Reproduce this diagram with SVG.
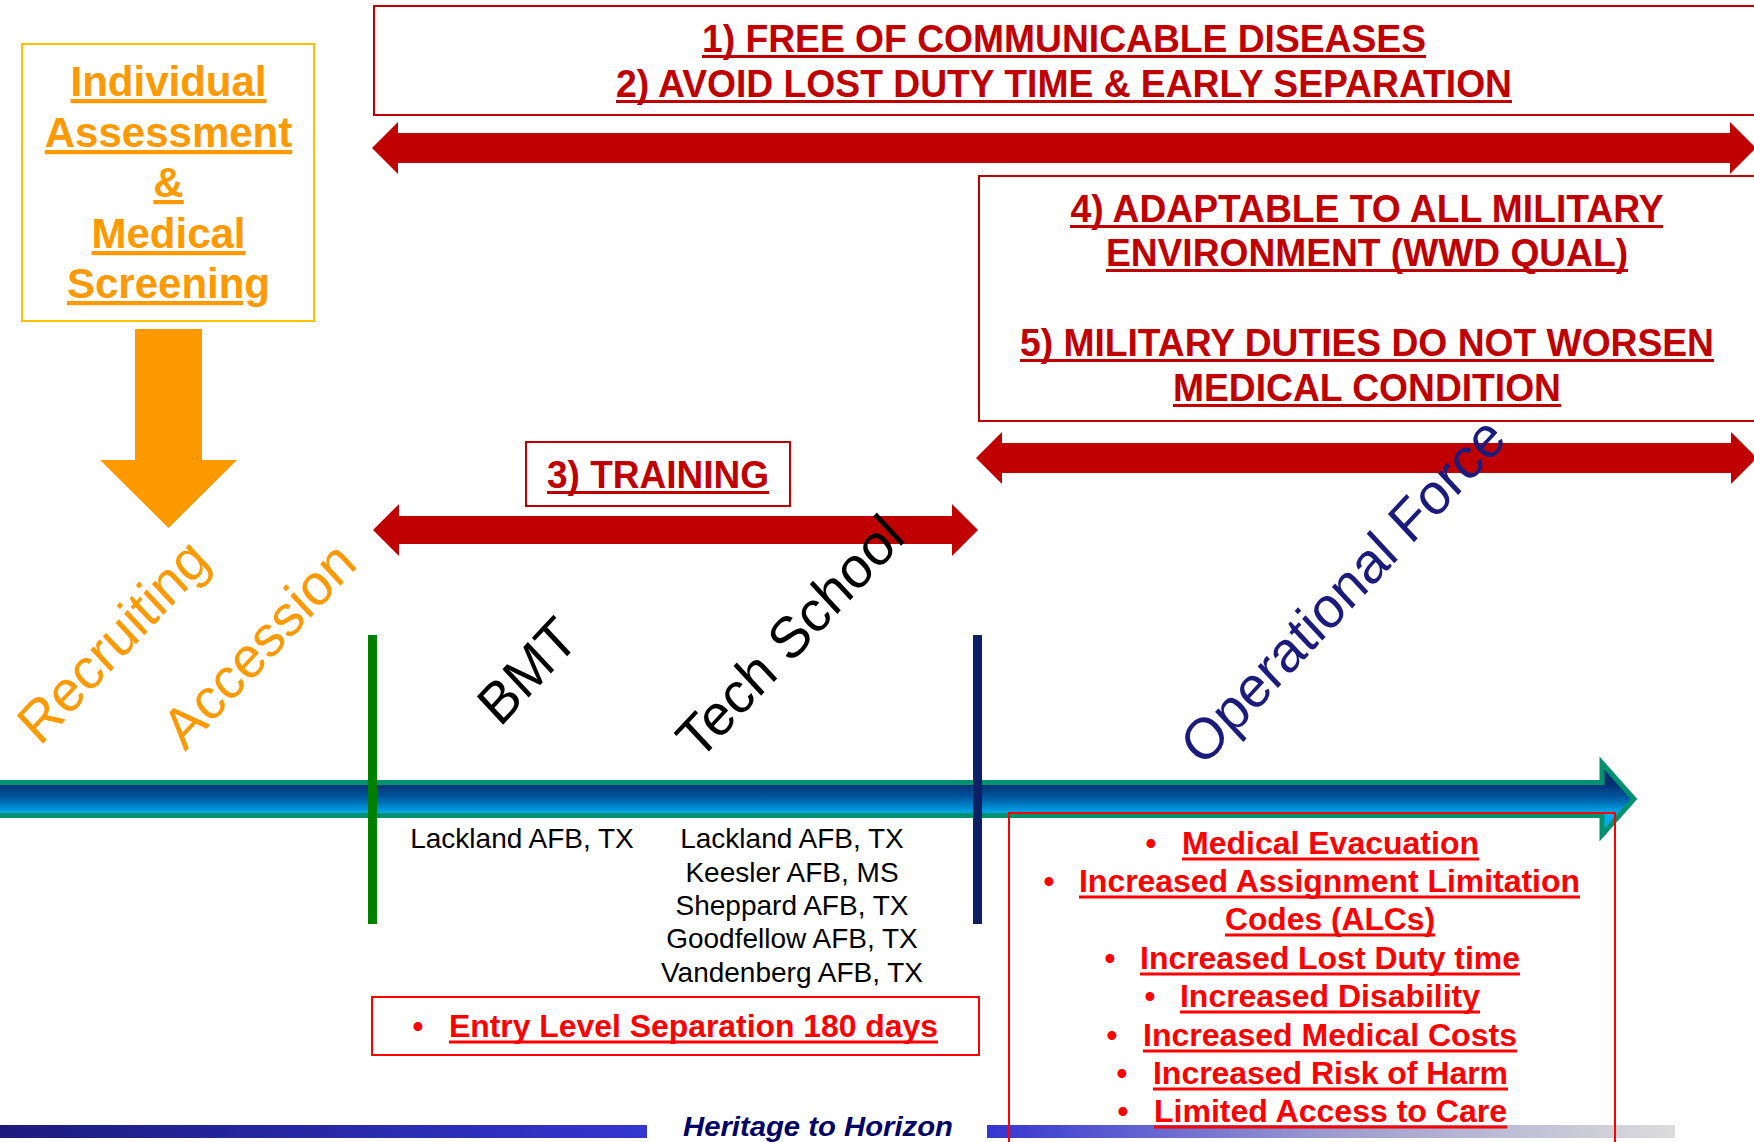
<svg xmlns="http://www.w3.org/2000/svg" width="1754" height="1142" viewBox="0 0 1754 1142">
  <style>
    .bg { fill: #ffffff; }
    .hdr { font-family: "Liberation Sans Narrow", "Liberation Sans", Arial, sans-serif; font-weight: 700; fill: #C00000; }
    .risk { font-family: "Liberation Sans Narrow", "Liberation Sans", Arial, sans-serif; font-weight: 700; fill: #FF0000; font-size: 31px; }
    .bul { font-family: "Liberation Sans", Arial, sans-serif; font-weight: 700; fill: #FF0000; font-size: 31px; text-anchor: middle; }
    .ul-dark { stroke: #C00000; stroke-width: 3; }
    .ul-red { stroke: #FF0000; stroke-width: 3; }
    .goalbox { fill: none; stroke: #C00000; stroke-width: 2; }
    .redbox { fill: none; stroke: #FF0000; stroke-width: 2; }
    .redarrow { fill: #C00000; }
    .base { font-family: "Liberation Sans", Arial, sans-serif; font-size: 28px; fill: #000000; text-anchor: middle; }
    .phase { font-family: "Liberation Sans", Arial, sans-serif; font-size: 54px; }
    .screen { font-family: "Liberation Sans", Arial, sans-serif; font-weight: 700; font-size: 42px; fill: #FF9900; text-anchor: middle; text-decoration: underline; }
  </style>
  <defs>
    <linearGradient id="timelineFill" gradientUnits="userSpaceOnUse" x1="0" y1="784" x2="0" y2="814">
      <stop offset="0" stop-color="#00306F"/>
      <stop offset="0.45" stop-color="#0058A0"/>
      <stop offset="1" stop-color="#00AEEF"/>
    </linearGradient>
    <linearGradient id="footLeft" x1="0" y1="0" x2="1" y2="0">
      <stop offset="0" stop-color="#1C1C7E"/>
      <stop offset="1" stop-color="#3535D0"/>
    </linearGradient>
    <linearGradient id="footRight" x1="0" y1="0" x2="1" y2="0">
      <stop offset="0" stop-color="#3535D0"/>
      <stop offset="0.5" stop-color="#9C9CD0"/>
      <stop offset="1" stop-color="#DCDCDC"/>
    </linearGradient>
  </defs>

  <rect class="bg" x="0" y="0" width="1754" height="1142"/>

  <!-- footer bars and tagline -->
  <g id="footer">
    <rect x="0" y="1125" width="647" height="13" fill="url(#footLeft)"/>
    <rect x="987" y="1125" width="688" height="13" fill="url(#footRight)"/>
    <text x="818" y="1136" text-anchor="middle" textLength="270" lengthAdjust="spacingAndGlyphs"
          font-family="Liberation Sans Narrow, Liberation Sans, Arial, sans-serif" font-weight="700" font-style="italic"
          font-size="28" fill="#000066">Heritage to Horizon</text>
  </g>

  <!-- connectors: block arrows and phase markers -->
  <g id="connectors">
    <!-- screening feeds recruiting -->
    <polygon points="135,329 202,329 202,460 237,460 168.5,528 100,460 135,460" fill="#FF9900"/>
    <!-- goals 1-2 span -->
    <polygon class="redarrow" points="372,148 398,122 398,133 1730,133 1730,122 1756,148 1730,174 1730,163 398,163 398,174"/>
    <!-- goals 4-5 span -->
    <polygon class="redarrow" points="976,458 1002,432 1002,443 1731,443 1731,432 1757,458 1731,484 1731,473 1002,473 1002,484"/>
    <!-- training span -->
    <polygon class="redarrow" points="373,530 399,504 399,516 952,516 952,504 978,530 952,556 952,544 399,544 399,556"/>
    <!-- career timeline -->
    <polygon points="-10,782.5 1602,782.5 1602,763 1634,799 1602,835 1602,815.5 -10,815.5"
             fill="url(#timelineFill)" stroke="#009270" stroke-width="5" stroke-linejoin="miter"/>
    <!-- phase boundaries -->
    <rect x="368" y="635" width="9" height="289" fill="#008000"/>
    <rect x="973" y="635" width="9" height="289" fill="#0B2163"/>
  </g>

  <g id="screening">
    <rect x="22" y="44" width="292" height="277" fill="none" stroke="#FFC000" stroke-width="2"/>
    <text class="screen" x="168.5" y="96">Individual</text>
    <text class="screen" x="168.5" y="147">Assessment</text>
    <text class="screen" x="168.5" y="197">&amp;</text>
    <text class="screen" x="168.5" y="248">Medical</text>
    <text class="screen" x="168.5" y="298">Screening</text>
  </g>

  <g id="goals-1-2">
    <rect class="goalbox" x="374" y="6" width="1400" height="109"/>
    <text class="hdr" x="1064" y="52" font-size="38" text-anchor="middle" textLength="724" lengthAdjust="spacingAndGlyphs">1) FREE OF COMMUNICABLE DISEASES</text>
    <line class="ul-dark" x1="702" y1="56.5" x2="1426" y2="56.5"/>
    <text class="hdr" x="1064" y="97" font-size="38" text-anchor="middle" textLength="896" lengthAdjust="spacingAndGlyphs">2) AVOID LOST DUTY TIME &amp; EARLY SEPARATION</text>
    <line class="ul-dark" x1="616" y1="101.5" x2="1512" y2="101.5"/>
  </g>

  <g id="goals-4-5">
    <rect class="goalbox" x="979" y="176" width="800" height="245"/>
    <text class="hdr" x="1367" y="222" font-size="38" text-anchor="middle" textLength="593" lengthAdjust="spacingAndGlyphs">4) ADAPTABLE TO ALL MILITARY</text>
    <line class="ul-dark" x1="1070" y1="226.5" x2="1663" y2="226.5"/>
    <text class="hdr" x="1367" y="266" font-size="38" text-anchor="middle" textLength="522" lengthAdjust="spacingAndGlyphs">ENVIRONMENT (WWD QUAL)</text>
    <line class="ul-dark" x1="1106" y1="270.5" x2="1628" y2="270.5"/>
    <text class="hdr" x="1367" y="356" font-size="38" text-anchor="middle" textLength="694" lengthAdjust="spacingAndGlyphs">5) MILITARY DUTIES DO NOT WORSEN</text>
    <line class="ul-dark" x1="1020" y1="360.5" x2="1714" y2="360.5"/>
    <text class="hdr" x="1367" y="401" font-size="38" text-anchor="middle" textLength="388" lengthAdjust="spacingAndGlyphs">MEDICAL CONDITION</text>
    <line class="ul-dark" x1="1173" y1="405.5" x2="1561" y2="405.5"/>
  </g>

  <g id="training">
    <rect class="goalbox" x="526" y="442" width="264" height="64"/>
    <text class="hdr" x="658" y="488" font-size="38" text-anchor="middle" textLength="222" lengthAdjust="spacingAndGlyphs">3) TRAINING</text>
    <line class="ul-dark" x1="547" y1="492.5" x2="769" y2="492.5"/>
  </g>

  <!-- diagonal phase labels (slightly stretched vertically, as on the slide) -->
  <g id="phase-labels">
    <text class="phase" fill="#FF9900" transform="translate(40,747) scale(1,1.07) rotate(-45)" font-size="53">Recruiting</text>
    <text class="phase" fill="#FF9900" transform="translate(185,752) scale(1,1.07) rotate(-45)" font-size="53">Accession</text>
    <text class="phase" fill="#000000" transform="translate(500,728) scale(1,1.07) rotate(-45)">BMT</text>
    <text class="phase" fill="#000000" transform="translate(699,762) scale(1,1.07) rotate(-45)">Tech School</text>
    <text class="phase" fill="#1B1B7D" transform="translate(1203,768) scale(1,1.07) rotate(-45)">Operational Force</text>
  </g>

  <g id="bases">
    <text class="base" x="522" y="848">Lackland AFB, TX</text>
    <text class="base" x="792" y="848">Lackland AFB, TX</text>
    <text class="base" x="792" y="882">Keesler AFB, MS</text>
    <text class="base" x="792" y="915">Sheppard AFB, TX</text>
    <text class="base" x="792" y="948">Goodfellow AFB, TX</text>
    <text class="base" x="792" y="982">Vandenberg AFB, TX</text>
  </g>

  <g id="entry-separation">
    <rect class="redbox" x="372" y="997" width="607" height="58"/>
    <text class="bul" x="418" y="1037">•</text>
    <text class="risk" x="449" y="1037" textLength="489" lengthAdjust="spacingAndGlyphs">Entry Level Separation 180 days</text>
    <line class="ul-red" x1="449" y1="1042" x2="938" y2="1042"/>
  </g>

  <g id="risks">
    <rect class="redbox" x="1009" y="813" width="606" height="340"/>
    <text class="bul" x="1151" y="854">•</text>
    <text class="risk" x="1182" y="854" textLength="297" lengthAdjust="spacingAndGlyphs">Medical Evacuation</text>
    <line class="ul-red" x1="1182" y1="859" x2="1479" y2="859"/>

    <text class="bul" x="1049" y="892">•</text>
    <text class="risk" x="1079" y="892" textLength="501" lengthAdjust="spacingAndGlyphs">Increased Assignment Limitation</text>
    <line class="ul-red" x1="1079" y1="897" x2="1580" y2="897"/>

    <text class="risk" x="1225" y="930" textLength="210" lengthAdjust="spacingAndGlyphs">Codes (ALCs)</text>
    <line class="ul-red" x1="1225" y1="935" x2="1435" y2="935"/>

    <text class="bul" x="1110" y="969">•</text>
    <text class="risk" x="1140" y="969" textLength="380" lengthAdjust="spacingAndGlyphs">Increased Lost Duty time</text>
    <line class="ul-red" x1="1140" y1="974" x2="1520" y2="974"/>

    <text class="bul" x="1150" y="1007">•</text>
    <text class="risk" x="1180" y="1007" textLength="300" lengthAdjust="spacingAndGlyphs">Increased Disability</text>
    <line class="ul-red" x1="1180" y1="1012" x2="1480" y2="1012"/>

    <text class="bul" x="1112" y="1046">•</text>
    <text class="risk" x="1143" y="1046" textLength="374" lengthAdjust="spacingAndGlyphs">Increased Medical Costs</text>
    <line class="ul-red" x1="1143" y1="1051" x2="1517" y2="1051"/>

    <text class="bul" x="1122" y="1084">•</text>
    <text class="risk" x="1153" y="1084" textLength="355" lengthAdjust="spacingAndGlyphs">Increased Risk of Harm</text>
    <line class="ul-red" x1="1153" y1="1089" x2="1508" y2="1089"/>

    <text class="bul" x="1123" y="1122">•</text>
    <text class="risk" x="1154" y="1122" textLength="353" lengthAdjust="spacingAndGlyphs">Limited Access to Care</text>
    <line class="ul-red" x1="1154" y1="1127" x2="1507" y2="1127"/>
  </g>
</svg>
